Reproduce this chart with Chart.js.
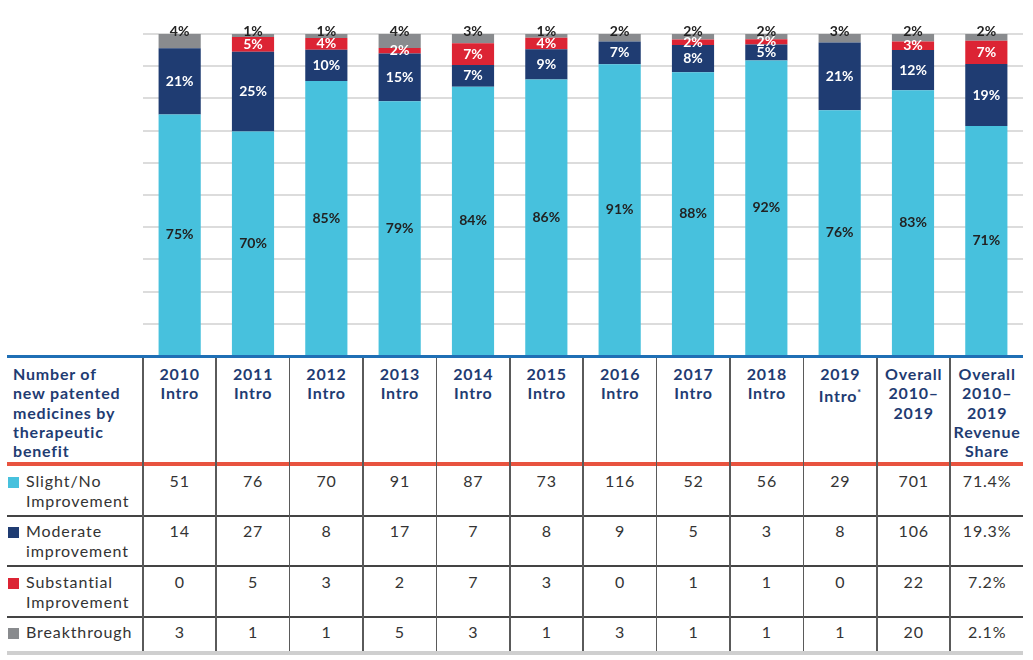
<!DOCTYPE html>
<html>
<head>
<meta charset="utf-8">
<script src="https://cdn.jsdelivr.net/npm/chart.js@4.4.1/dist/chart.umd.min.js"></script>
<style>
  html, body { margin: 0; padding: 0; background: #fff; }
  body { width: 1033px; height: 660px; position: relative; overflow: hidden; font-family: Lato, "Open Sans", sans-serif; }
  #chartBox { position: absolute; left: 143px; top: 0; width: 880px; height: 356px; }
  #tbl { position: absolute; left: 7px; top: 355px; width: 1016px; }
  .hline { position: absolute; left: 0; width: 1016px; }
  .vline { position: absolute; width: 1.5px; background: #5A5A5A; }
  .cell { position: absolute; text-align: center; color: #333; font-size: 16px; line-height: 20px; letter-spacing: 0.8px; }
  .head { position: absolute; text-align: center; color: #1F3C72; font-weight: 700; font-size: 16px; line-height: 19.3px; letter-spacing: 0.8px; }
  .rowlab { position: absolute; left: 19px; color: #333; font-size: 16px; line-height: 20px; letter-spacing: 0.9px; }
  .sw { position: absolute; left: 1px; width: 11px; height: 11px; }
</style>
</head>
<body>
<div id="chartBox"><canvas id="c"></canvas></div>
<div id="tbl"></div>
<script>
const columns = ['2010\nIntro', '2011\nIntro', '2012\nIntro', '2013\nIntro', '2014\nIntro', '2015\nIntro',
                 '2016\nIntro', '2017\nIntro', '2018\nIntro', '2019\nIntro*', 'Overall\n2010–\n2019',
                 'Overall\n2010–\n2019\nRevenue\nShare'];
const seriesNames = ['Slight/No\nImprovement', 'Moderate\nimprovement', 'Substantial\nImprovement', 'Breakthrough'];
const seriesColors = ['#47C1DD', '#1F3C72', '#DC2434', '#898B8E'];

// counts per year (2010..2019, then overall)
const slightCount      = [51, 76, 70, 91, 87, 73, 116, 52, 56, 29, 701];
const moderateCount    = [14, 27, 8, 17, 7, 8, 9, 5, 3, 8, 106];
const substantialCount = [0, 5, 3, 2, 7, 3, 0, 1, 1, 0, 22];
const breakthroughCount = [3, 1, 1, 5, 3, 1, 3, 1, 1, 1, 20];
// revenue share (%) for the last column
const revenueShare = [71.4, 19.3, 7.2, 2.1];

const counts = [slightCount, moderateCount, substantialCount, breakthroughCount];
const totals = slightCount.map((_, i) => counts.reduce((s, a) => s + a[i], 0));
const shares = counts.map((arr, k) => arr.map((v, i) => v / totals[i] * 100).concat([revenueShare[k]]));

const labelColors = ['#222', '#fff', '#fff', '#222'];

const barLabels = {
    id: 'barLabels',
    afterDatasetsDraw(chart) {
        const ctx = chart.ctx;
        ctx.save();
        ctx.font = '700 14px Lato, "Open Sans", sans-serif';
        ctx.textAlign = 'center';
        ctx.textBaseline = 'middle';
        chart.data.datasets.forEach((ds, k) => {
            const meta = chart.getDatasetMeta(k);
            meta.data.forEach((bar, i) => {
                const v = ds.data[i];
                if (Math.round(v) === 0) return;
                const top = Math.min(bar.y, bar.base);
                const bot = Math.max(bar.y, bar.base);
                let y = (top + bot) / 2;
                if (k === 3) y = top - 3;
                ctx.fillStyle = labelColors[k];
                ctx.fillText(Math.round(v) + '%', bar.x, y);
            });
        });
        ctx.restore();
    }
};

new Chart(document.getElementById('c'), {
    type: 'bar',
    data: {
        labels: columns.map(c => c.replace(/\n/g, ' ')),
        datasets: shares.map((d, k) => ({
            label: seriesNames[k].replace('\n', ' '),
            data: d,
            backgroundColor: seriesColors[k],
            borderWidth: 0,
            barPercentage: 1,
            categoryPercentage: 0.575
        }))
    },
    options: {
        responsive: true,
        maintainAspectRatio: false,
        animation: false,
        layout: { padding: { top: 34, bottom: 0, left: 0, right: 0 } },
        plugins: { legend: { display: false }, tooltip: { enabled: false } },
        scales: {
            x: { stacked: true, display: false },
            y: {
                stacked: true, min: 0, max: 100,
                ticks: { display: false, stepSize: 10 },
                grid: { color: '#DCDCDC', lineWidth: 2, drawTicks: false },
                border: { display: false },
                afterFit: s => { s.width = 0; }
            }
        }
    },
    plugins: [barLabels]
});

// table below the chart
const tbl = document.getElementById('tbl');
const colX0 = 136, colW = 73.4;
const rowTops = [0, 111, 161, 212, 262];  // relative to table top
const rowEnd = 296;
function add(html) { tbl.insertAdjacentHTML('beforeend', html); }

add(`<div class="hline" style="top:0;height:3px;background:#1F6FB5"></div>`);
add(`<div class="hline" style="top:107px;height:4px;background:#E8533F"></div>`);
add(`<div class="hline" style="top:160px;height:1.5px;background:#444"></div>`);
add(`<div class="hline" style="top:210px;height:1.5px;background:#444"></div>`);
add(`<div class="hline" style="top:261px;height:1.5px;background:#444"></div>`);
add(`<div class="hline" style="top:296px;height:4px;background:#CFCFCF"></div>`);
for (let j = 0; j < columns.length; j++) {
    add(`<div class="vline" style="left:${colX0 + j * colW - 1}px;top:3px;height:${rowEnd - 3}px"></div>`);
}
add(`<div class="head" style="left:6px;top:9px;text-align:left;width:132px">Number of<br>new patented<br>medicines by<br>therapeutic<br>benefit</div>`);
columns.forEach((c, j) => {
    add(`<div class="head" style="left:${colX0 + j * colW}px;top:9px;width:${colW}px">${c.replace(/\n/g, '<br>').replace('*', '<sup style="font-size:9px">*</sup>')}</div>`);
});
seriesNames.forEach((name, k) => {
    const top = rowTops[k + 1];
    add(`<div class="sw" style="top:${top + 11}px;background:${seriesColors[k]}"></div>`);
    add(`<div class="rowlab" style="top:${top + 5}px">${name.replace('\n', '<br>')}</div>`);
    counts[k].forEach((v, j) => {
        add(`<div class="cell" style="left:${colX0 + j * colW}px;top:${top + 5}px;width:${colW}px">${v}</div>`);
    });
    add(`<div class="cell" style="left:${colX0 + 11 * colW}px;top:${top + 5}px;width:${colW}px">${revenueShare[k].toFixed(1)}%</div>`);
});
</script>
</body>
</html>
